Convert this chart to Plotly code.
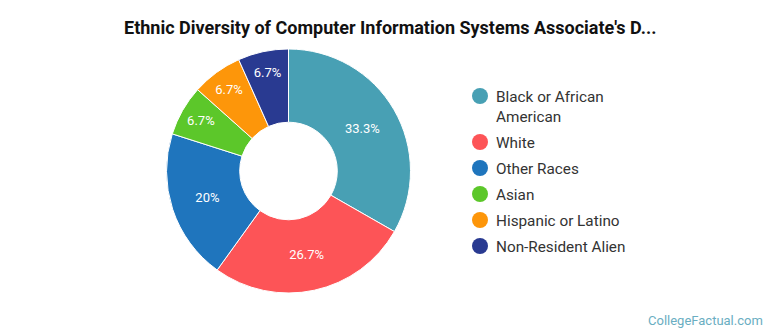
import plotly.graph_objects as go

# Share of graduates by ethnicity (percent)
groups = ["Black or African<br>American", "White", "Other Races", "Asian",
          "Hispanic or Latino", "Non-Resident Alien"]
shares = [33.3, 26.7, 20, 6.7, 6.7, 6.7]
share_labels = ["33.3%", "26.7%", "20%", "6.7%", "6.7%", "6.7%"]
colors = ["#48a0b4", "#fd5457", "#1f75bd", "#5cc72a", "#fd960a", "#293a91"]

W, H = 770, 335

fig = go.Figure()
fig.add_trace(go.Pie(
    values=shares,
    labels=[g.replace("<br>", " ") for g in groups],
    text=share_labels,
    textinfo="text",
    textposition="inside",
    insidetextorientation="horizontal",
    insidetextfont=dict(family="Roboto", size=13, color="white"),
    marker=dict(colors=colors, line=dict(color="white", width=1)),
    hole=0.4,
    sort=False,
    direction="clockwise",
    rotation=0,
    showlegend=False,
    domain=dict(x=[(288.5 - 122) / W, (288.5 + 122) / W],
                y=[(H - 171 - 122) / H, (H - 171 + 122) / H]),
))

# Legend drawn as circle swatches with labels
legend_y = [96, 142, 168, 194, 220, 246]
shapes = []
annotations = []
for g, c, yy in zip(groups, colors, legend_y):
    shapes.append(dict(type="circle", xref="paper", yref="paper",
                       x0=(472) / W, x1=(488) / W,
                       y0=(H - yy - 8) / H, y1=(H - yy + 8) / H,
                       fillcolor=c, line=dict(width=0)))
    annotations.append(dict(text=g, xref="paper", yref="paper",
                            x=494 / W, y=(H - yy + 10) / H,
                            xanchor="left", yanchor="top", align="left",
                            showarrow=False,
                            font=dict(family="Roboto", size=15.3, color="#333333")))

annotations.append(dict(
    text="<b>Ethnic Diversity of Computer Information Systems Associate's D...</b>",
    xref="paper", yref="paper", x=389.5 / W, y=(H - 28) / H,
    xanchor="center", yanchor="middle", showarrow=False,
    font=dict(family="Roboto", size=18, color="#111111")))

annotations.append(dict(
    text="CollegeFactual.com", xref="paper", yref="paper",
    x=765 / W, y=(H - 320) / H, xanchor="right", yanchor="middle",
    showarrow=False, font=dict(family="Roboto", size=13, color="#6aaec2")))

fig.update_layout(
    width=W, height=H,
    margin=dict(l=0, r=0, t=0, b=0),
    paper_bgcolor="white", plot_bgcolor="white",
    shapes=shapes, annotations=annotations,
)

fig.write_html("out.html")
